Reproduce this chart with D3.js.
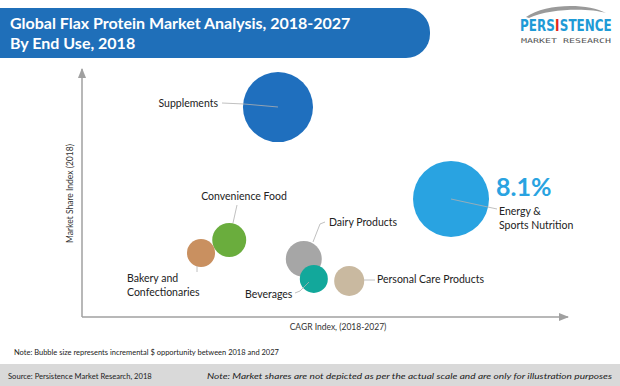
<!DOCTYPE html>
<html>
<head>
<meta charset="utf-8">
<script src="https://cdn.jsdelivr.net/npm/d3@7/dist/d3.min.js"></script>
<style>
  html, body { margin: 0; padding: 0; background: #fff; }
  svg { display: block; font-family: Lato, "Open Sans", sans-serif; }
</style>
</head>
<body>
<svg id="chart" width="620" height="386"></svg>
<script>
// data (index units 0-100)
const categories = ['Supplements', 'Convenience Food', 'Bakery and Confectionaries', 'Dairy Products', 'Beverages', 'Personal Care Products', 'Energy & Sports Nutrition'];
const cagrIndex = [41.0, 30.8, 24.9, 46.4, 48.5, 55.9, 77.2];
const shareIndex = [85.0, 31.2, 25.9, 23.5, 15.4, 14.6, 47.8];
const opportunity = [85, 20, 13.6, 22.4, 13.6, 15.6, 100];
const bubbleColors = ['#1f6fbe', '#6aad3d', '#c99060', '#a6a6a6', '#12a89b', '#c9b9a0', '#29a3e1'];
const highlightValue = '8.1%';

// label layout: text position, anchor, leader line points
const labelLayout = [
  { lines: ['Supplements'], x: 218, y: 107, anchor: 'end', leader: [[222, 103], [244, 104], [278, 107]] },
  { lines: ['Convenience Food'], x: 244, y: 200, anchor: 'middle', leader: [[237, 205], [233, 223]] },
  { lines: ['Bakery and', 'Confectionaries'], x: 127, y: 282, anchor: 'start', leader: [[197, 272], [197, 266]] },
  { lines: ['Dairy Products'], x: 329, y: 226, anchor: 'start', leader: [[325, 222], [320, 224], [313, 242]] },
  { lines: ['Beverages'], x: 245, y: 298, anchor: 'start', leader: [[295, 293], [300, 291], [309, 282]] },
  { lines: ['Personal Care Products'], x: 377, y: 283, anchor: 'start', leader: [[364, 280], [375, 280]] },
  { lines: ['Energy &', 'Sports Nutrition'], x: 499, y: 215, anchor: 'start', leader: [[451, 199], [497, 209]] }
];

const svg = d3.select('#chart');

const x = d3.scaleLinear().domain([0, 100]).range([82, 560]);
const y = d3.scaleLinear().domain([0, 100]).range([317, 70]);
const r = d3.scaleSqrt().domain([0, d3.max(opportunity)]).range([0, 38]);

// header bar
svg.append('path')
  .attr('d', 'M0,8 H406 A24,24 0 0 1 430,32 V34 A24,24 0 0 1 406,58 H0 Z')
  .attr('fill', '#1f6fb9');
svg.append('text').attr('x', 10).attr('y', 29)
  .attr('fill', '#fff').attr('font-size', 16).attr('font-weight', 'bold')
  .text('Global Flax Protein Market Analysis, 2018-2027');
svg.append('text').attr('x', 10).attr('y', 49)
  .attr('fill', '#fff').attr('font-size', 16).attr('font-weight', 'bold')
  .text('By End Use, 2018');

// logo
const logo = svg.append('g');
logo.append('path')
  .attr('d', 'M526,17 C545,3 588,3 606,13 C590,8 550,8 529,18 Z')
  .attr('fill', '#9a9a9a');
const word = logo.append('g');
let cursor = 0;
[['PERS', '#1e9ad6'], ['I', '#e2231a'], ['STENCE', '#1e9ad6']].forEach(([t, c]) => {
  const el = word.append('text').attr('x', cursor).attr('y', 0)
    .attr('font-size', 15).attr('font-weight', 'bold').attr('fill', c)
    .attr('font-family', '"Liberation Sans Narrow", "DejaVu Sans Condensed", sans-serif')
    .text(t);
  cursor += el.node().getComputedTextLength() + 0.3;
});
word.attr('transform', `translate(520,31) scale(${92 / cursor},1)`);
logo.append('text').attr('x', 521).attr('y', 43)
  .attr('font-size', 6.5).attr('fill', '#555')
  .attr('font-family', '"DejaVu Sans Mono", monospace')
  .attr('textLength', 90).attr('lengthAdjust', 'spacingAndGlyphs')
  .text('MARKET RESEARCH');

// axes
const axisColor = '#a0a0a0';
svg.append('defs').append('marker')
  .attr('id', 'arrow').attr('viewBox', '0 0 10 10')
  .attr('refX', 9).attr('refY', 5)
  .attr('markerWidth', 7).attr('markerHeight', 7)
  .attr('orient', 'auto')
  .append('path').attr('d', 'M0,1 L10,5 L0,9 Z').attr('fill', axisColor);

svg.append('line')
  .attr('x1', x(0)).attr('y1', y(0)).attr('x2', x(0)).attr('y2', 69)
  .attr('stroke', axisColor).attr('stroke-width', 1.5).attr('marker-end', 'url(#arrow)');
svg.append('line')
  .attr('x1', x(0)).attr('y1', y(0)).attr('x2', 568).attr('y2', y(0))
  .attr('stroke', axisColor).attr('stroke-width', 1.5).attr('marker-end', 'url(#arrow)');

svg.append('text')
  .attr('transform', `translate(73,${(y(0) + 70) / 2}) rotate(-90)`)
  .attr('text-anchor', 'middle').attr('font-size', 8.5).attr('fill', '#333')
  .text('Market Share Index (2018)');
svg.append('text')
  .attr('x', 338).attr('y', 330)
  .attr('text-anchor', 'middle').attr('font-size', 8.5).attr('fill', '#333')
  .text('CAGR Index, (2018-2027)');

// bubbles
const data = categories.map((c, i) => ({
  name: c, cx: cagrIndex[i], cy: shareIndex[i], size: opportunity[i], color: bubbleColors[i], label: labelLayout[i]
}));

svg.append('g').selectAll('circle')
  .data(data)
  .join('circle')
  .attr('cx', d => x(d.cx))
  .attr('cy', d => y(d.cy))
  .attr('r', d => r(d.size))
  .attr('fill', d => d.color);

// leader lines
const line = d3.line();
svg.append('g').selectAll('path')
  .data(data)
  .join('path')
  .attr('d', d => line(d.label.leader))
  .attr('fill', 'none')
  .attr('stroke', '#b0b0b0')
  .attr('stroke-width', 0.8);

// labels
const labels = svg.append('g').selectAll('text')
  .data(data)
  .join('text')
  .attr('x', d => d.label.x)
  .attr('y', d => d.label.y)
  .attr('text-anchor', d => d.label.anchor)
  .attr('font-size', 10.5)
  .attr('fill', '#222');
labels.selectAll('tspan')
  .data(d => d.label.lines.map(t => ({ t, x: d.label.x })))
  .join('tspan')
  .attr('x', d => d.x)
  .attr('dy', (d, i) => i ? 14 : 0)
  .text(d => d.t);

svg.append('text')
  .attr('x', 496).attr('y', 196)
  .attr('font-size', 25).attr('font-weight', 'bold').attr('fill', '#29a3e1')
  .text(highlightValue);

// notes and footer
svg.append('text').attr('x', 14).attr('y', 355)
  .attr('font-size', 7.5).attr('fill', '#222')
  .text('Note: Bubble size represents incremental $ opportunity between 2018 and 2027');
svg.append('rect').attr('x', 0).attr('y', 364).attr('width', 620).attr('height', 22).attr('fill', '#d9d9d9');
svg.append('text').attr('x', 8).attr('y', 379)
  .attr('font-size', 7.6).attr('fill', '#222')
  .text('Source: Persistence Market Research, 2018');
svg.append('text').attr('x', 612).attr('y', 379)
  .attr('text-anchor', 'end').attr('font-size', 8.5).attr('font-style', 'italic').attr('fill', '#222')
  .attr('textLength', 405).attr('lengthAdjust', 'spacingAndGlyphs')
  .text('Note: Market shares are not depicted as per the actual scale and are only for illustration purposes');
</script>
</body>
</html>
